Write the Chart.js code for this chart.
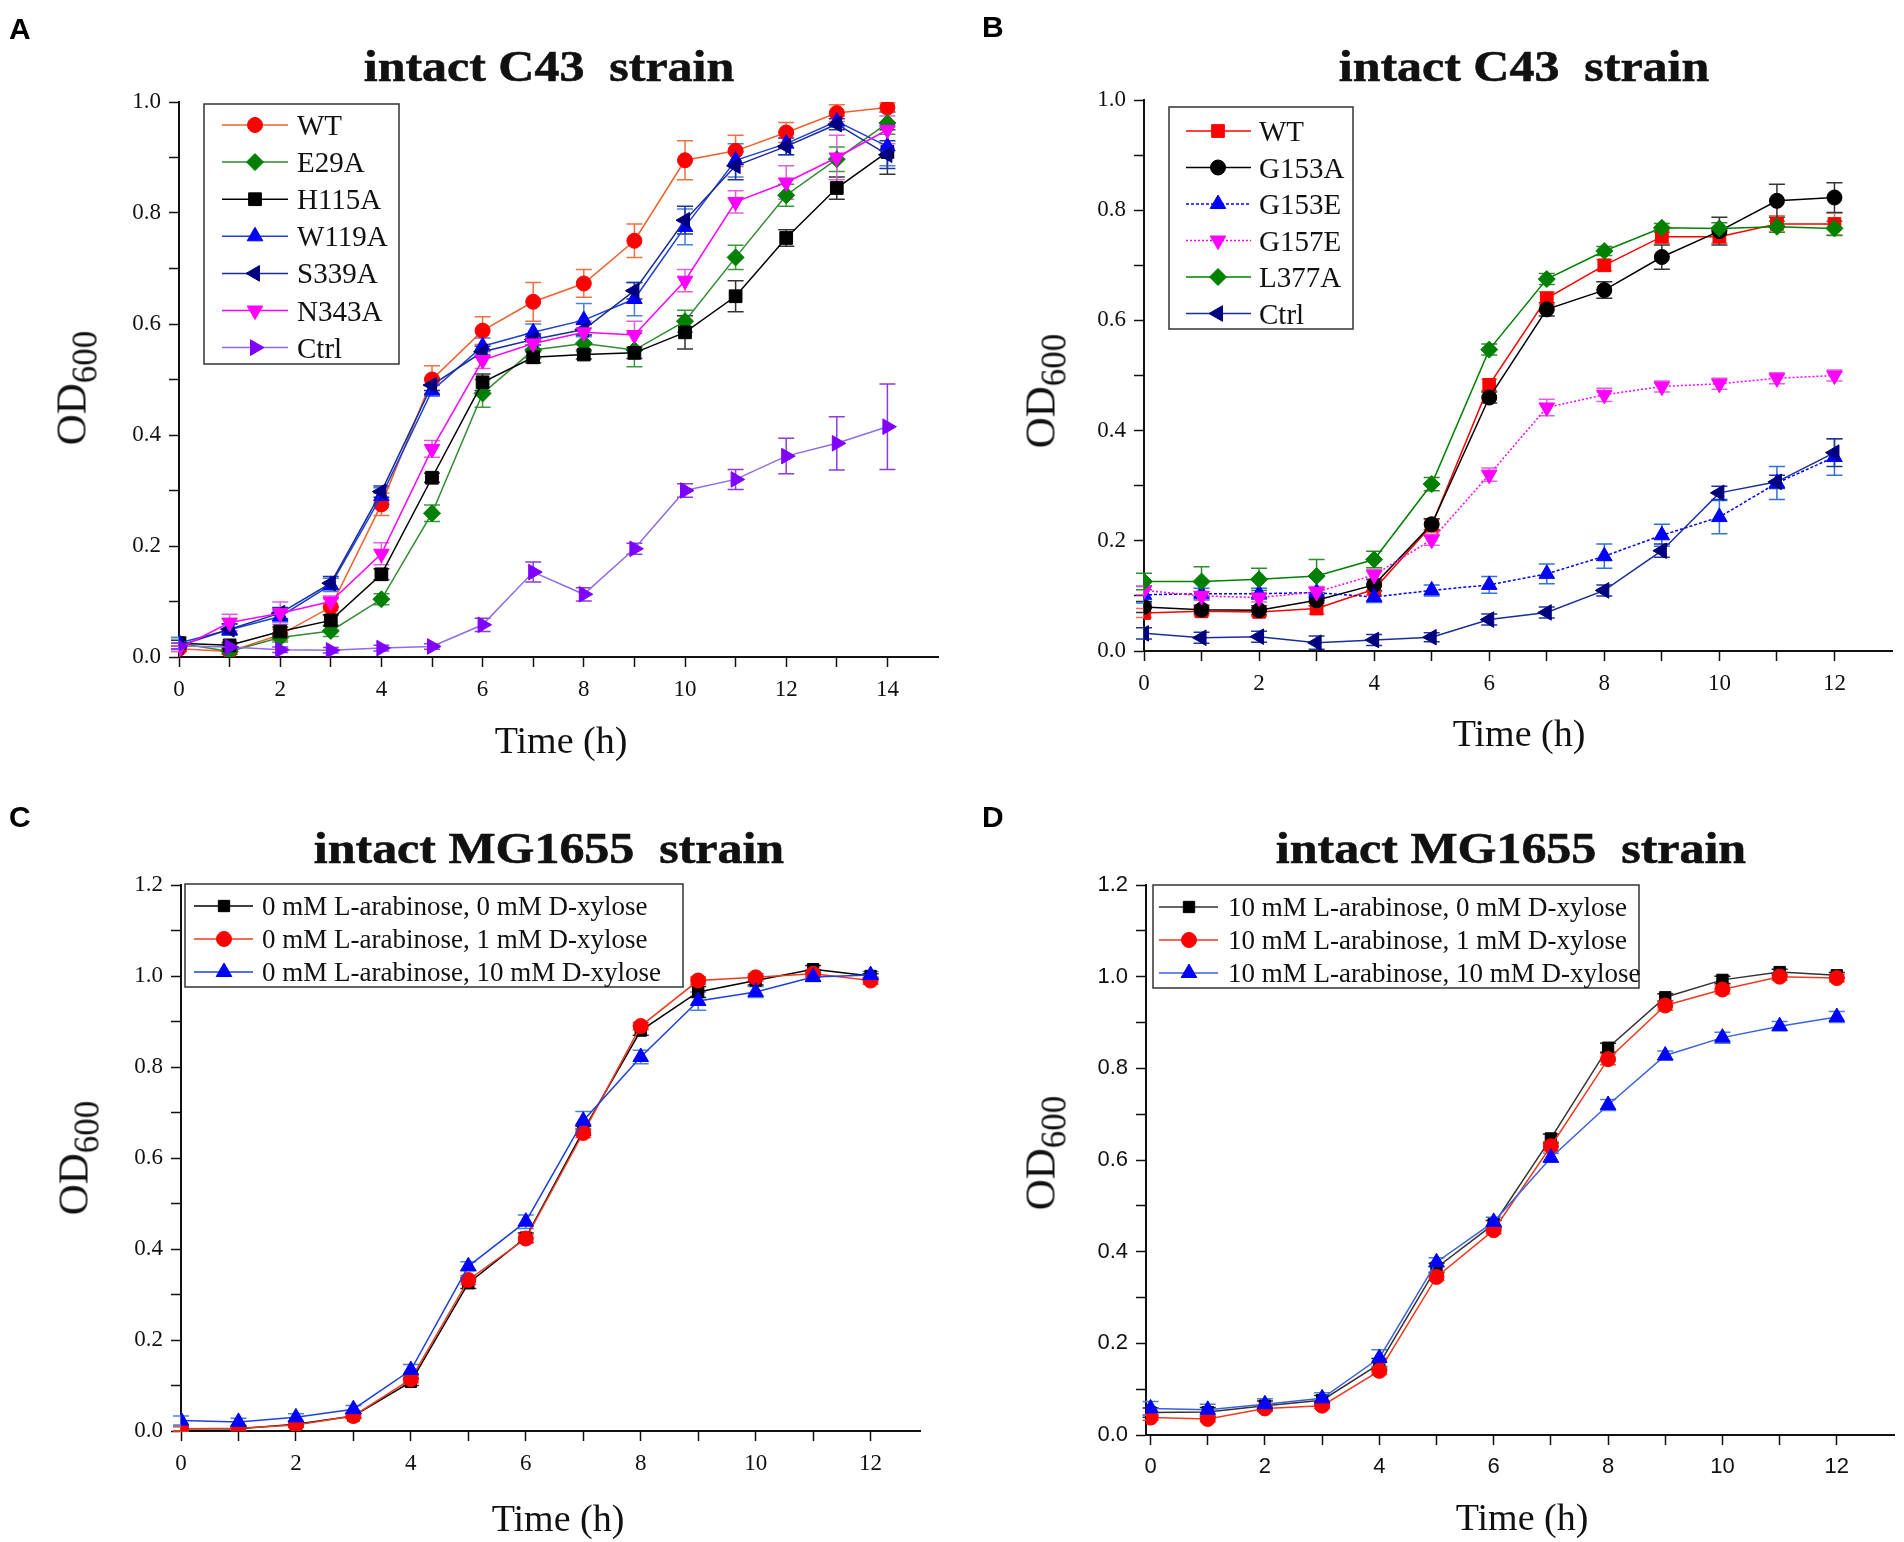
<!DOCTYPE html>
<html>
<head>
<meta charset="utf-8">
<script src="https://cdn.jsdelivr.net/npm/chart.js@4.4.1/dist/chart.umd.min.js"></script>
<style>
  html, body { margin: 0; padding: 0; background: #fff; }
  body { position: relative; width: 1904px; height: 1542px; overflow: hidden; }
  canvas { position: absolute; }
  .lbl { position: absolute; white-space: pre; line-height: 1; color: #111; }
  .letter { font-family: "Liberation Sans", Arial, sans-serif; font-weight: bold; font-size: 30px; color: #000; }
  .title { font-family: "Liberation Serif", "Times New Roman", serif; font-weight: bold; font-size: 45px; transform: translateX(-50%) scaleX(1.11); transform-origin: center; -webkit-text-stroke: 0.6px #111; }
  .xt { font-family: "Liberation Serif", "Times New Roman", serif; font-size: 38px; transform: translateX(-50%); }
  .yt { font-family: "Liberation Serif", "Times New Roman", serif; font-size: 43px; transform: translate(-50%, -50%) rotate(-90deg); }
  .yt span { font-size: 35px; position: relative; top: 11px; }
</style>
</head>
<body>
<canvas id="cA" width="952" height="771" style="left:0;top:0"></canvas>
<canvas id="cB" width="952" height="771" style="left:952px;top:0"></canvas>
<canvas id="cC" width="952" height="771" style="left:0;top:771px"></canvas>
<canvas id="cD" width="952" height="771" style="left:952px;top:771px"></canvas>

<div class="lbl letter" style="left:9px;top:14px">A</div>
<div class="lbl letter" style="left:982px;top:12px">B</div>
<div class="lbl letter" style="left:9px;top:802px">C</div>
<div class="lbl letter" style="left:982px;top:802px">D</div>

<div class="lbl title" style="left:549px;top:44px">intact C43  strain</div>
<div class="lbl title" style="left:1524px;top:44px">intact C43  strain</div>
<div class="lbl title" style="left:549px;top:826px">intact MG1655  strain</div>
<div class="lbl title" style="left:1511px;top:826px">intact MG1655  strain</div>

<div class="lbl xt" style="left:561px;top:721px">Time (h)</div>
<div class="lbl xt" style="left:1519px;top:714px">Time (h)</div>
<div class="lbl xt" style="left:558px;top:1499px">Time (h)</div>
<div class="lbl xt" style="left:1522px;top:1498px">Time (h)</div>

<div class="lbl yt" style="left:71px;top:388px">OD<span>600</span></div>
<div class="lbl yt" style="left:1040px;top:391px">OD<span>600</span></div>
<div class="lbl yt" style="left:73px;top:1158px">OD<span>600</span></div>
<div class="lbl yt" style="left:1040px;top:1153px">OD<span>600</span></div>

<script>
// ---------------- DATA ----------------
const hoursA = [0,1,2,3,4,5,6,7,8,9,10,11,12,13,14];
const hours12 = [0,1,2,3,4,5,6,7,8,9,10,11,12];
const xTickLabelsA = ['0','2','4','6','8','10','12','14'];
const xTickLabels12 = ['0','2','4','6','8','10','12'];

// Panel A
const A_WT      = [0.015,0.010,0.040,0.090,0.275,0.500,0.588,0.640,0.673,0.750,0.895,0.912,0.945,0.980,0.990];
const A_WT_err  = [0.005,0.005,0.010,0.015,0.020,0.025,0.025,0.035,0.025,0.030,0.035,0.028,0.018,0.015,0.008];
const A_E29A    = [0.025,0.010,0.035,0.047,0.104,0.259,0.475,0.553,0.565,0.553,0.605,0.720,0.832,0.897,0.962];
const A_E29A_err= [0.010,0.005,0.008,0.010,0.010,0.015,0.025,0.015,0.015,0.030,0.020,0.022,0.020,0.022,0.020];
const A_H115A   = [0.025,0.021,0.046,0.066,0.149,0.323,0.495,0.540,0.545,0.548,0.585,0.650,0.755,0.845,0.910];
const A_H115A_err=[0.005,0.005,0.008,0.010,0.010,0.008,0.015,0.010,0.008,0.010,0.030,0.028,0.015,0.020,0.040];
const A_W119A   = [0.025,0.049,0.073,0.130,0.290,0.480,0.560,0.585,0.607,0.645,0.775,0.895,0.925,0.965,0.920];
const A_W119A_err=[0.010,0.010,0.010,0.012,0.015,0.010,0.015,0.015,0.030,0.030,0.032,0.030,0.020,0.010,0.035];
const A_S339A   = [0.020,0.050,0.079,0.133,0.298,0.490,0.550,0.572,0.590,0.660,0.787,0.885,0.920,0.960,0.905];
const A_S339A_err=[0.005,0.010,0.010,0.012,0.010,0.010,0.010,0.010,0.010,0.015,0.025,0.025,0.015,0.010,0.025];
const A_N343A   = [0.015,0.062,0.079,0.100,0.186,0.375,0.535,0.565,0.585,0.580,0.678,0.820,0.855,0.900,0.950];
const A_N343A_err=[0.005,0.015,0.020,0.010,0.020,0.015,0.015,0.010,0.020,0.025,0.020,0.020,0.030,0.040,0.025];
const A_Ctrl    = [0.020,0.018,0.013,0.012,0.016,0.019,0.058,0.153,0.113,0.195,0.300,0.320,0.362,0.385,0.415];
const A_Ctrl_err= [0.005,0.005,0.005,0.005,0.005,0.005,0.012,0.018,0.012,0.010,0.012,0.018,0.032,0.048,0.077];

// Panel B
const B_WT      = [0.069,0.072,0.071,0.077,0.112,0.228,0.483,0.640,0.700,0.752,0.752,0.775,0.775];
const B_WT_err  = [0.008,0.008,0.008,0.010,0.010,0.012,0.010,0.012,0.010,0.012,0.012,0.015,0.020];
const B_G153A   = [0.080,0.075,0.074,0.092,0.120,0.230,0.460,0.620,0.655,0.715,0.762,0.817,0.823];
const B_G153A_err=[0.010,0.008,0.008,0.010,0.010,0.010,0.010,0.012,0.015,0.022,0.025,0.030,0.027];
const B_G153E   = [0.102,0.104,0.104,0.106,0.098,0.110,0.120,0.140,0.172,0.210,0.243,0.305,0.352];
const B_G153E_err=[0.015,0.010,0.010,0.010,0.010,0.010,0.015,0.018,0.022,0.020,0.030,0.030,0.033];
const B_G157E   = [0.110,0.100,0.097,0.107,0.138,0.202,0.320,0.442,0.465,0.480,0.485,0.495,0.500];
const B_G157E_err=[0.008,0.008,0.008,0.010,0.010,0.010,0.012,0.015,0.012,0.010,0.010,0.010,0.010];
const B_L377A   = [0.126,0.126,0.130,0.136,0.166,0.303,0.547,0.675,0.726,0.768,0.767,0.770,0.767];
const B_L377A_err=[0.015,0.027,0.020,0.030,0.015,0.012,0.010,0.010,0.008,0.008,0.010,0.010,0.013];
const B_Ctrl    = [0.032,0.024,0.026,0.015,0.020,0.025,0.057,0.070,0.110,0.182,0.287,0.307,0.360];
const B_Ctrl_err= [0.010,0.010,0.010,0.012,0.010,0.008,0.010,0.010,0.010,0.012,0.012,0.012,0.025];

// Panel C
const C_A0X0    = [0.005,0.005,0.015,0.033,0.108,0.325,0.425,0.660,0.880,0.965,0.990,1.015,1.000];
const C_A0X0_err= [0.005,0.005,0.005,0.005,0.008,0.012,0.010,0.010,0.010,0.012,0.010,0.008,0.005];
const C_A0X1    = [0.005,0.006,0.013,0.033,0.114,0.332,0.423,0.655,0.890,0.990,0.997,1.005,0.990];
const C_A0X1_err= [0.005,0.005,0.005,0.005,0.008,0.010,0.010,0.010,0.008,0.008,0.008,0.008,0.008];
const C_A0X10   = [0.023,0.020,0.030,0.048,0.134,0.362,0.460,0.682,0.822,0.945,0.965,0.998,1.002];
const C_A0X10_err=[0.010,0.008,0.008,0.008,0.012,0.010,0.015,0.020,0.015,0.020,0.012,0.010,0.008];

// Panel D
const D_A10X0   = [0.049,0.050,0.064,0.076,0.155,0.365,0.460,0.647,0.845,0.955,0.993,1.010,1.003];
const D_A10X0_err=[0.010,0.010,0.010,0.010,0.012,0.010,0.008,0.010,0.010,0.008,0.008,0.006,0.006];
const D_A10X1   = [0.038,0.035,0.058,0.064,0.140,0.345,0.447,0.630,0.820,0.937,0.972,1.000,0.997];
const D_A10X1_err=[0.006,0.006,0.006,0.006,0.008,0.008,0.008,0.010,0.012,0.010,0.010,0.008,0.008];
const D_A10X10  = [0.058,0.055,0.067,0.080,0.168,0.377,0.465,0.605,0.720,0.828,0.867,0.892,0.912];
const D_A10X10_err=[0.015,0.012,0.012,0.012,0.018,0.010,0.010,0.010,0.012,0.010,0.012,0.010,0.012];

// ---------------- HELPERS ----------------
function series(label, xs, ys, errs, st) {
  return {
    label: label,
    data: xs.map((x, i) => ({ x: x, y: ys[i] })),
    errors: errs,
    errorColor: st.err || st.line,
    borderColor: st.line,
    backgroundColor: st.mark,
    pointBackgroundColor: st.mark,
    pointBorderColor: st.mark,
    pointBorderWidth: 1,
    pointStyle: st.style,
    pointRotation: st.rot || 0,
    pointRadius: st.r,
    borderWidth: 1.5,
    borderDash: st.dash || [],
    tension: 0,
    fill: false
  };
}

const errorBarPlugin = {
  id: 'errorBars',
  beforeDatasetsDraw(chart) {
    const ctx = chart.ctx, xs = chart.scales.x, ys = chart.scales.y;
    chart.data.datasets.forEach(ds => {
      if (!ds.errors) return;
      ctx.save();
      ctx.strokeStyle = ds.errorColor;
      ctx.lineWidth = 1.5;
      ds.data.forEach((p, j) => {
        const e = ds.errors[j];
        if (!e) return;
        const px = xs.getPixelForValue(p.x);
        const y1 = ys.getPixelForValue(p.y + e);
        const y2 = ys.getPixelForValue(p.y - e);
        const cap = 8;
        ctx.beginPath();
        ctx.moveTo(px, y1); ctx.lineTo(px, y2);
        ctx.moveTo(px - cap, y1); ctx.lineTo(px + cap, y1);
        ctx.moveTo(px - cap, y2); ctx.lineTo(px + cap, y2);
        ctx.stroke();
      });
      ctx.restore();
    });
  }
};

const legendPlugin = {
  id: 'boxLegend',
  afterDraw(chart) {
    const L = chart.options.plugins.boxLegend;
    if (!L) return;
    const ctx = chart.ctx;
    ctx.save();
    ctx.fillStyle = '#fff';
    ctx.fillRect(L.box[0], L.box[1], L.box[2] - L.box[0], L.box[3] - L.box[1]);
    ctx.strokeStyle = '#333';
    ctx.lineWidth = 1.5;
    ctx.strokeRect(L.box[0], L.box[1], L.box[2] - L.box[0], L.box[3] - L.box[1]);
    chart.data.datasets.forEach((ds, i) => {
      const y = L.y0 + i * L.dy;
      ctx.strokeStyle = ds.borderColor;
      ctx.lineWidth = 1.5;
      ctx.setLineDash(ds.borderDash || []);
      ctx.beginPath();
      ctx.moveTo(L.lx0, y); ctx.lineTo(L.lx1, y);
      ctx.stroke();
      ctx.setLineDash([]);
      ctx.fillStyle = ds.pointBackgroundColor;
      ctx.strokeStyle = ds.pointBorderColor;
      ctx.lineWidth = 1;
      Chart.helpers.drawPoint(ctx, {
        pointStyle: ds.pointStyle, rotation: ds.pointRotation,
        radius: ds.pointRadius, borderWidth: 1
      }, L.mx, y);
      ctx.fillStyle = '#111';
      ctx.font = L.font;
      ctx.textBaseline = 'alphabetic';
      ctx.textAlign = 'left';
      ctx.fillText(ds.label, L.tx, y + L.base);
    });
    ctx.restore();
  }
};

function makePanel(id, cfg) {
  const W = 952, H = 771, YW = 70, XH = 60;
  const a = cfg.area;
  const n = cfg.datasets.length;
  cfg.datasets.forEach((d, i) => { d.order = n - i; });
  const labelSet = cfg.xLabels;
  new Chart(document.getElementById(id), {
    type: 'line',
    data: { datasets: cfg.datasets },
    plugins: [errorBarPlugin, legendPlugin],
    options: {
      responsive: false,
      animation: false,
      devicePixelRatio: 1,
      layout: { padding: { left: a.l - YW, top: a.t, right: W - a.r, bottom: H - a.b - XH } },
      plugins: {
        legend: { display: false },
        tooltip: { enabled: false },
        title: { display: false },
        boxLegend: cfg.legend
      },
      scales: {
        x: {
          type: 'linear',
          min: cfg.xMin, max: cfg.xMax,
          afterFit: s => { s.height = XH; },
          ticks: {
            stepSize: 1, includeBounds: false, autoSkip: false, maxRotation: 0,
            padding: 9, color: '#111', font: cfg.tickFont,
            callback: v => { const s = String(Math.round(v)); return (Math.abs(v - Math.round(v)) < 1e-6 && labelSet.indexOf(s) >= 0) ? s : ''; }
          },
          grid: {
            drawOnChartArea: false, drawTicks: true, tickLength: 10, tickWidth: 1.5,
            tickColor: c => (c.tick && c.tick.value > cfg.lastTick + 0.01) ? 'rgba(0,0,0,0)' : '#111',
            color: '#111'
          },
          border: { display: true, color: '#111', width: 2 }
        },
        y: {
          type: 'linear',
          min: 0, max: cfg.yMax,
          afterFit: s => { s.width = YW; },
          ticks: {
            stepSize: 0.1, includeBounds: false, autoSkip: false,
            padding: 8, color: '#111', font: cfg.tickFont,
            callback: v => (Math.round(v * 10) % 2 === 0) ? v.toFixed(1) : ''
          },
          grid: { drawOnChartArea: false, drawTicks: true, tickLength: 10, tickWidth: 1.5, tickColor: '#111', color: '#111' },
          border: { display: true, color: '#111', width: 2 }
        }
      }
    }
  });
}

const serifTick = { family: '"Liberation Serif", "Times New Roman", serif', size: 23 };
const sansTick = { family: '"Liberation Sans", Arial, sans-serif', size: 22 };

// ---------------- PANEL A ----------------
makePanel('cA', {
  area: { l: 179, t: 102, r: 938, b: 657 },
  xMin: 0, xMax: 15, yMax: 1.0, lastTick: 14, xLabels: xTickLabelsA, tickFont: serifTick,
  legend: { box: [204, 104, 399, 364], y0: 125, dy: 37.1, lx0: 222, lx1: 288, mx: 255, tx: 297,
            font: '29px "Liberation Serif", "Times New Roman", serif', base: 10 },
  datasets: [
    series('WT', hoursA, A_WT, A_WT_err, { line: '#F0602A', mark: '#FF0000', err: '#F07040', style: 'circle', r: 7.5 }),
    series('E29A', hoursA, A_E29A, A_E29A_err, { line: '#2E8B2E', mark: '#008000', err: '#3A9A3A', style: 'rectRot', r: 8.5 }),
    series('H115A', hoursA, A_H115A, A_H115A_err, { line: '#000000', mark: '#000000', err: '#333333', style: 'rect', r: 9 }),
    series('W119A', hoursA, A_W119A, A_W119A_err, { line: '#1F40D0', mark: '#0000FF', err: '#4A80E0', style: 'triangle', r: 9 }),
    series('S339A', hoursA, A_S339A, A_S339A_err, { line: '#1A2E9A', mark: '#000080', err: '#22349F', style: 'triangle', rot: 270, r: 9 }),
    series('N343A', hoursA, A_N343A, A_N343A_err, { line: '#FF00FF', mark: '#FF00FF', err: '#E060E0', style: 'triangle', rot: 180, r: 9 }),
    series('Ctrl', hoursA, A_Ctrl, A_Ctrl_err, { line: '#8E6CE6', mark: '#8000FF', err: '#8A3BE2', style: 'triangle', rot: 90, r: 9 })
  ]
});

// ---------------- PANEL B ----------------
makePanel('cB', {
  area: { l: 192, t: 100, r: 940, b: 651 },
  xMin: 0, xMax: 13, yMax: 1.0, lastTick: 12, xLabels: xTickLabels12, tickFont: serifTick,
  legend: { box: [217, 107, 401, 329], y0: 131, dy: 36.5, lx0: 234, lx1: 299, mx: 266, tx: 307,
            font: '29px "Liberation Serif", "Times New Roman", serif', base: 10 },
  datasets: [
    series('WT', hours12, B_WT, B_WT_err, { line: '#FF0000', mark: '#FF0000', err: '#F07050', style: 'rect', r: 9 }),
    series('G153A', hours12, B_G153A, B_G153A_err, { line: '#000000', mark: '#000000', err: '#333333', style: 'circle', r: 7.5 }),
    series('G153E', hours12, B_G153E, B_G153E_err, { line: '#0000FF', mark: '#0000FF', err: '#3070E0', style: 'triangle', r: 9, dash: [3, 2] }),
    series('G157E', hours12, B_G157E, B_G157E_err, { line: '#FF00FF', mark: '#FF00FF', err: '#E060E0', style: 'triangle', rot: 180, r: 9, dash: [2, 2] }),
    series('L377A', hours12, B_L377A, B_L377A_err, { line: '#008000', mark: '#008000', err: '#2E8B2E', style: 'rectRot', r: 8.5 }),
    series('Ctrl', hours12, B_Ctrl, B_Ctrl_err, { line: '#1A2E9A', mark: '#000080', err: '#22349F', style: 'triangle', rot: 270, r: 9 })
  ]
});

// ---------------- PANEL C ----------------
makePanel('cC', {
  area: { l: 181, t: 114, r: 920, b: 660 },
  xMin: 0, xMax: 12.86, yMax: 1.2, lastTick: 12, xLabels: xTickLabels12, tickFont: serifTick,
  legend: { box: [185, 113, 683, 216], y0: 135, dy: 33, lx0: 194, lx1: 253, mx: 224, tx: 262,
            font: '27px "Liberation Serif", "Times New Roman", serif', base: 9 },
  datasets: [
    series('0 mM L-arabinose, 0 mM D-xylose', hours12, C_A0X0, C_A0X0_err, { line: '#000000', mark: '#000000', err: '#222222', style: 'rect', r: 8 }),
    series('0 mM L-arabinose, 1 mM D-xylose', hours12, C_A0X1, C_A0X1_err, { line: '#F03A20', mark: '#FF0000', err: '#F05030', style: 'circle', r: 7.5 }),
    series('0 mM L-arabinose, 10 mM D-xylose', hours12, C_A0X10, C_A0X10_err, { line: '#1F40E0', mark: '#0000FF', err: '#4A80E0', style: 'triangle', r: 9 })
  ]
});

// ---------------- PANEL D ----------------
makePanel('cD', {
  area: { l: 194, t: 114, r: 943, b: 664 },
  xMin: -0.08, xMax: 13, yMax: 1.2, lastTick: 12, xLabels: xTickLabels12, tickFont: sansTick,
  legend: { box: [201, 114, 687, 217], y0: 136, dy: 33, lx0: 207, lx1: 266, mx: 237, tx: 276,
            font: '27px "Liberation Serif", "Times New Roman", serif', base: 9 },
  datasets: [
    series('10 mM L-arabinose, 0 mM D-xylose', hours12, D_A10X0, D_A10X0_err, { line: '#333333', mark: '#000000', err: '#222222', style: 'rect', r: 8 }),
    series('10 mM L-arabinose, 1 mM D-xylose', hours12, D_A10X1, D_A10X1_err, { line: '#F03A20', mark: '#FF0000', err: '#F05030', style: 'circle', r: 7.5 }),
    series('10 mM L-arabinose, 10 mM D-xylose', hours12, D_A10X10, D_A10X10_err, { line: '#3A60E0', mark: '#0000FF', err: '#4A80E0', style: 'triangle', r: 9 })
  ]
});
</script>
</body>
</html>
